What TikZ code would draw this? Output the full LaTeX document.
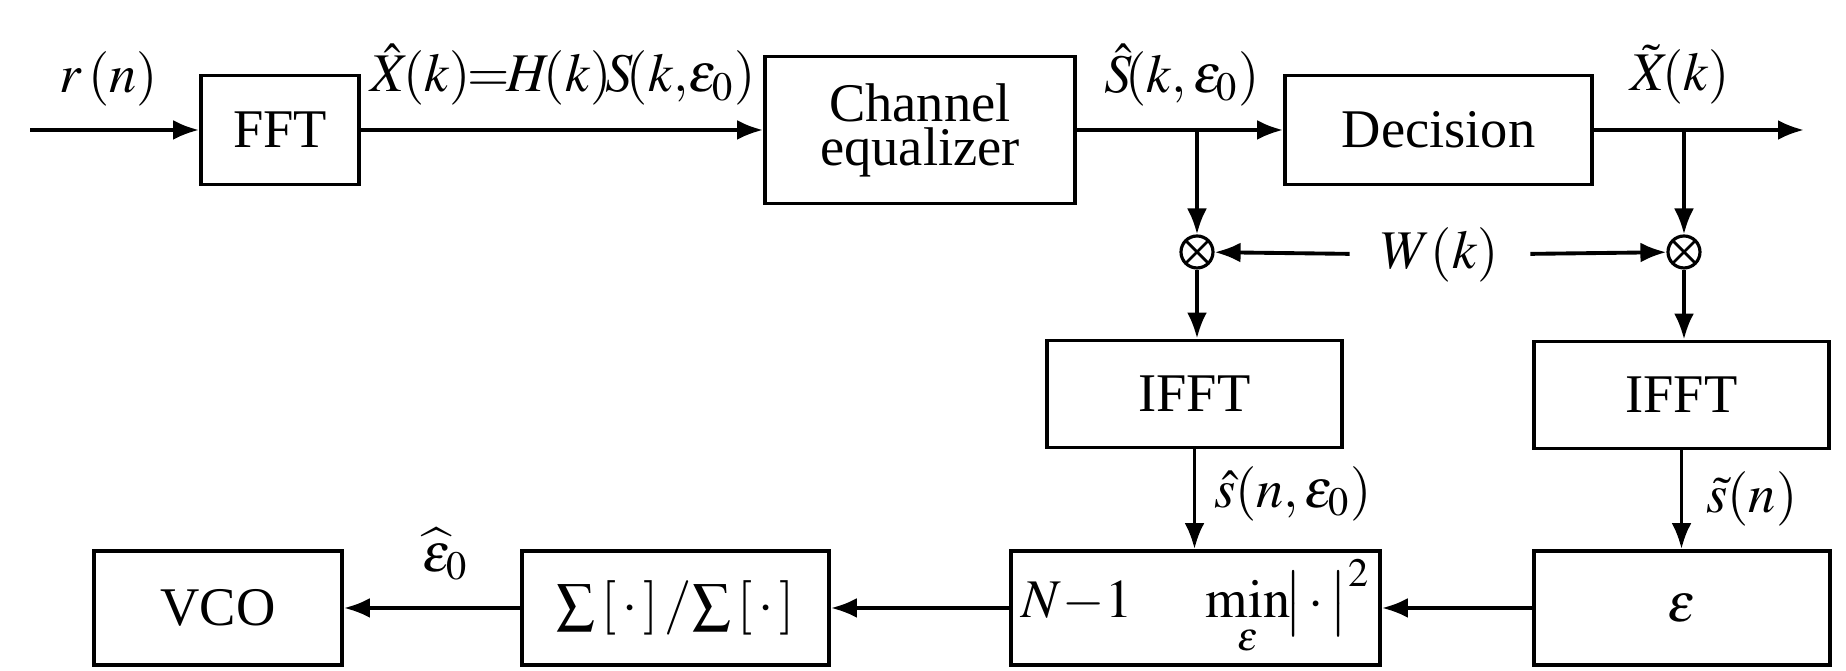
\documentclass[tikz,border=0pt]{standalone}
\usepackage{amsmath}
\usepackage{mathptmx}
\usepackage{fontspec}
\setmainfont{Liberation Serif}
\usetikzlibrary{arrows.meta}

\begin{document}
\begin{tikzpicture}[
  >={Latex[length=2.6mm,width=2mm]},
  line width=1.1pt,
  font=\fontsize{15.5}{17}\selectfont,
  blk/.style={draw,rectangle,inner sep=0pt,minimum height=1.09cm},
  mult/.style={draw,circle,minimum size=3.2mm,inner sep=0pt,line width=0.9pt,
    path picture={\draw[line width=0.8pt]
      (path picture bounding box.north west) -- (path picture bounding box.south east)
      (path picture bounding box.north east) -- (path picture bounding box.south west);}},
  lbl/.style={inner sep=1pt}
]
  \useasboundingbox (0,0) rectangle (18.46,-6.71);
  % top row
  \coordinate (in) at (0.30,-1.30);
  \node[blk,minimum width=1.58cm] (fft) at (2.80,-1.30) {FFT};
  \node[blk,minimum width=3.10cm,minimum height=1.47cm,align=center,
        font=\fontsize{15.5}{12.5}\selectfont] (ce) at (9.20,-1.30) {Channel\\equalizer};
  \node[blk,minimum width=3.07cm] (dec) at (14.385,-1.30) {Decision};
  \coordinate (out) at (18.04,-1.30);
  \coordinate (brL) at (11.97,-1.30);
  \coordinate (brR) at (16.84,-1.30);
  % multipliers
  \node[mult] (mulL) at (11.97,-2.52) {};
  \node[mult] (mulR) at (16.84,-2.52) {};
  \node[inner xsep=0.3cm] (wk) at (14.40,-2.55) {$W(k)$};
  % ifft blocks
  \node[blk,minimum width=2.95cm,minimum height=1.07cm] (ifftL) at (11.945,-3.94) {IFFT};
  \node[blk,minimum width=2.95cm,minimum height=1.07cm] (ifftR) at (16.815,-3.95) {IFFT};
  % bottom row
  \node[blk,minimum width=2.48cm,minimum height=1.14cm] (vco) at (2.18,-6.08) {VCO};
  \node[blk,minimum width=3.07cm,minimum height=1.14cm] (sumb) at (6.755,-6.08)
    {$\textstyle\sum\,[\,\cdot\,]\,/\!\sum\,[\,\cdot\,]$};
  \node[blk,minimum width=3.69cm,minimum height=1.14cm] (minb) at (11.955,-6.08)
    {$N\!-\!1\quad\;\min\limits_{\varepsilon}\!\bigl|\,\cdot\,\bigr|^2$};
  \node[blk,minimum width=2.96cm,minimum height=1.14cm] (epsb) at (16.82,-6.08) {$\varepsilon$};

  \draw[->] (in) -- (fft);
  \draw[->] (fft) -- (ce);
  \draw[->] (ce) -- (dec);
  \draw[->] (dec) -- (out);
  \draw[->] (brL) -- (mulL);
  \draw[->] (brR) -- (mulR);
  \draw[->] (wk) -- (mulL);
  \draw[->] (wk) -- (mulR);
  \draw[->] (mulL) -- (mulL |- ifftL.north);
  \draw[->] (mulR) -- (mulR |- ifftR.north);
  \draw[->] (ifftL.south) -- (ifftL.south |- minb.north);
  \draw[->] (ifftR.south) -- (ifftR.south |- epsb.north);
  \draw[->] (epsb) -- (minb);
  \draw[->] (minb) -- (sumb);
  \draw[->] (sumb) -- (vco);

  % labels
  \node[lbl] (lr) at (1.09,-0.79) {$r\,(n)$};
  \node[lbl] (lx) at (5.63,-0.75)
    {$\hat{X}\mkern-2mu(k)\mkern-1mu{=}\mkern-1mu H\mkern-2mu(k)\mkern-2mu S\mkern-2mu(k,\mkern-2mu\varepsilon_0)$};
  \node[lbl] (ls) at (11.82,-0.75) {$\hat{S}\mkern-2mu(k,\varepsilon_0)$};
  \node[lbl] (lxt) at (16.80,-0.75) {$\tilde{X}\mkern-2mu(k)$};
  \node[lbl] (lsh) at (12.93,-4.94) {$\hat{s}(n,\varepsilon_0)$};
  \node[lbl] (lst) at (17.52,-4.99) {$\tilde{s}(n)$};
  \node[lbl] (le) at (4.45,-5.54) {$\widehat{\varepsilon}_0$};
\end{tikzpicture}
\end{document}
